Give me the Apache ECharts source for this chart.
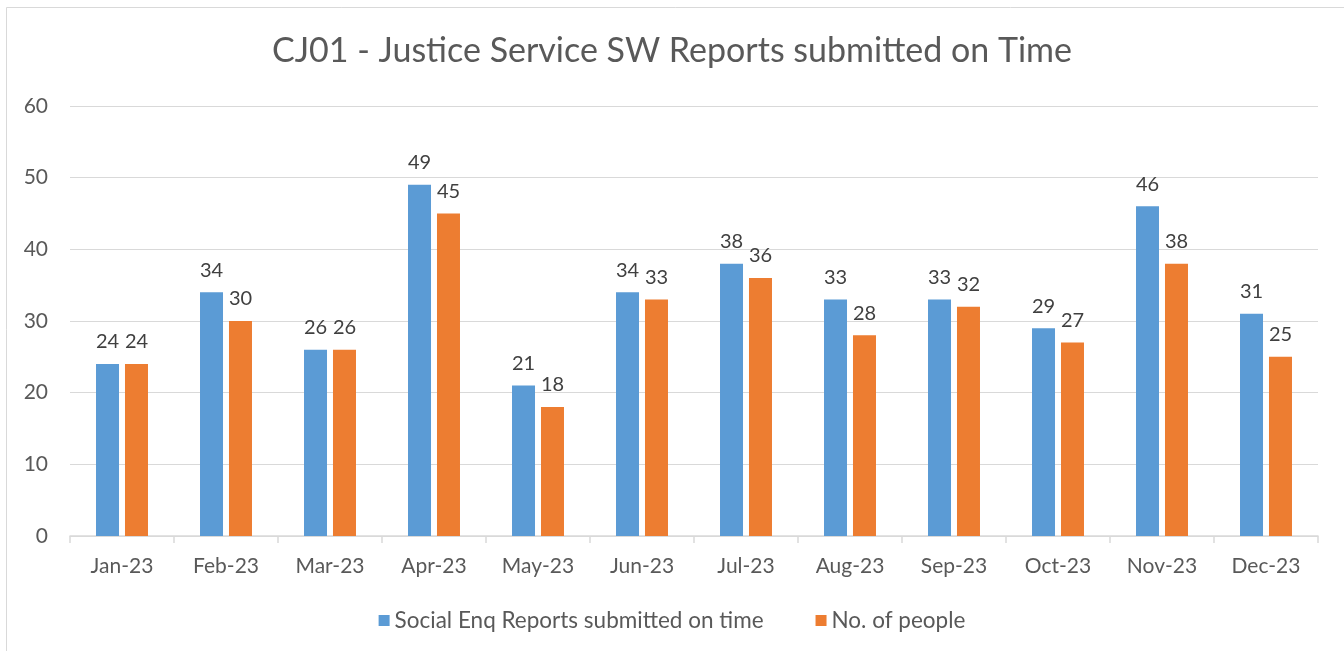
<!DOCTYPE html>
<html>
<head>
<meta charset="utf-8">
<script src="https://cdn.jsdelivr.net/npm/echarts@6/dist/echarts.min.js"></script>
<style>
  html, body { margin: 0; padding: 0; background: #fff; }
  #chart { width: 1344px; height: 651px; }
</style>
</head>
<body>
<div id="chart"></div>
<script>
const months = ["Jan-23", "Feb-23", "Mar-23", "Apr-23", "May-23", "Jun-23",
  "Jul-23", "Aug-23", "Sep-23", "Oct-23", "Nov-23", "Dec-23"];
const reportsOnTime = [24, 34, 26, 49, 21, 34, 38, 33, 33, 29, 46, 31];
const noOfPeople = [24, 30, 26, 45, 18, 33, 36, 28, 32, 27, 38, 25];

const font = "Lato";
const chart = echarts.init(document.getElementById("chart"));

const labelStyle = {
  show: true,
  position: "top",
  distance: 12,
  color: "#404040",
  fontSize: 20,
  fontFamily: font,
};

chart.setOption({
  animation: false,
  backgroundColor: "#fff",
  textStyle: { fontFamily: font },
  title: {
    text: "CJ01 - Justice Service SW Reports submitted on Time",
    left: "center",
    top: 29,
    textStyle: { color: "#595959", fontSize: 34, fontWeight: "normal", fontFamily: font },
  },
  graphic: [
    {
      type: "rect",
      shape: { x: 6.5, y: 7.5, width: 1400, height: 700 },
      style: { fill: "none", stroke: "#d9d9d9", lineWidth: 1 },
      silent: true,
    },
  ],
  legend: {
    bottom: 14,
    left: "center",
    itemWidth: 11,
    itemHeight: 11,
    itemGap: 52,
    icon: "rect",
    textStyle: { color: "#595959", fontSize: 22.5, fontFamily: font },
    data: ["Social Enq Reports submitted on time", "No. of people"],
  },
  grid: { left: 70, right: 26, top: 106, bottom: 115 },
  xAxis: {
    type: "category",
    data: months,
    axisLine: { lineStyle: { color: "#d9d9d9", width: 1.5 } },
    axisTick: { show: true, length: 7, lineStyle: { color: "#d9d9d9", width: 1.5 } },
    axisLabel: { color: "#595959", fontSize: 21, margin: 20, fontFamily: font },
  },
  yAxis: {
    type: "value",
    min: 0,
    max: 60,
    interval: 10,
    axisLine: { show: false },
    axisTick: { show: false },
    splitLine: { lineStyle: { color: "#d9d9d9", width: 1 } },
    axisLabel: { color: "#595959", fontSize: 21, margin: 22, fontFamily: font },
  },
  series: [
    {
      name: "Social Enq Reports submitted on time",
      type: "bar",
      data: reportsOnTime,
      barWidth: 23,
      barGap: "26%",
      itemStyle: { color: "#5b9bd5" },
      label: labelStyle,
    },
    {
      name: "No. of people",
      type: "bar",
      data: noOfPeople,
      barWidth: 23,
      itemStyle: { color: "#ed7d31" },
      label: labelStyle,
    },
  ],
});
</script>
</body>
</html>
